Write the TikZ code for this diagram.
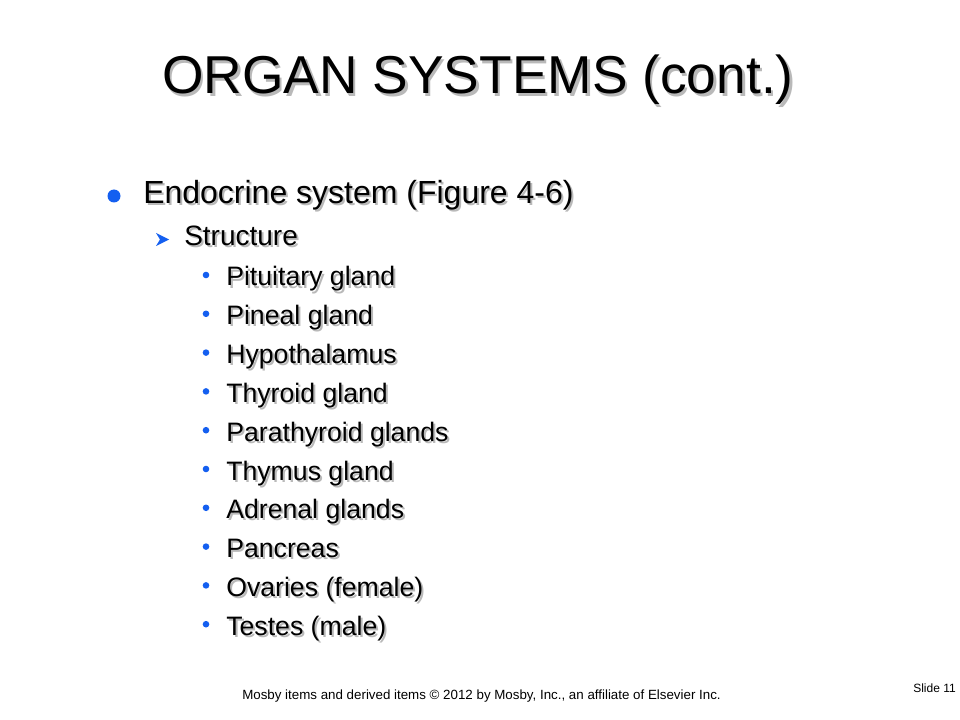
\documentclass[tikz,border=0pt]{standalone}
\usepackage{fontspec}
\setmainfont{Liberation Sans}
\definecolor{bulletblue}{RGB}{20,95,240}
\definecolor{shadowgray}{RGB}{185,185,185}
\begin{document}
\begin{tikzpicture}[x=0.75pt,y=-0.75pt,
    txt/.style={anchor=base west,inner sep=0pt},
    drop/.style={txt,text=shadowgray},
    titlefont/.style={font=\fontsize{40}{48}\selectfont},
    topfont/.style={font=\fontsize{24}{29}\selectfont},
    midfont/.style={font=\fontsize{21}{25}\selectfont},
    subfont/.style={font=\fontsize{20}{24}\selectfont},
    notefont/.style={font=\fontsize{10}{12}\selectfont}]
		\useasboundingbox[fill=white] (0,0) rectangle (960,720);

		% title
		\node[drop,anchor=base,titlefont] (titleshadow) at (480.5,96.5) {ORGAN SYSTEMS (cont.)};
		\node[txt,anchor=base,titlefont] (title) at (478,94) {ORGAN SYSTEMS (cont.)};

		% first level
		\fill[bulletblue] (114,196) circle (6.5);
		\node[drop,topfont] (endoshadow) at (145,206) {Endocrine system (Figure 4-6)};
		\node[txt,topfont] (endo) at (143,204) {Endocrine system (Figure 4-6)};

		% second level
		\fill[bulletblue] (156,233) -- (169,239.5) -- (156,246) -- (160,239.5) -- cycle;
		\node[drop,midfont] (structshadow) at (186,248) {Structure};
		\node[txt,midfont] (struct) at (184,246) {Structure};

		% third level
		\foreach \organ [count=\i from 0] in {Pituitary gland, Pineal gland, Hypothalamus,
			Thyroid gland, Parathyroid glands, Thymus gland, Adrenal glands, Pancreas,
			Ovaries (female), Testes (male)}
			{
				\pgfmathsetmacro{\yy}{286+38.8*\i}
				\fill[bulletblue] (206,\yy-11) circle (3.3);
				\node[drop,subfont] (organshadow\i) at (228,\yy+2) {\organ};
				\node[txt,subfont] (organ\i) at (226,\yy) {\organ};
			}

		% footer
		\node[txt,notefont] (credit) at (242,699) {Mosby items and derived items \textcopyright{} 2012 by Mosby, Inc., an affiliate of Elsevier Inc.};
		\node[txt,anchor=base east,notefont,font=\fontsize{9}{11}\selectfont] (slideno) at (956,692) {Slide 11};

	\end{tikzpicture}
\end{document}
